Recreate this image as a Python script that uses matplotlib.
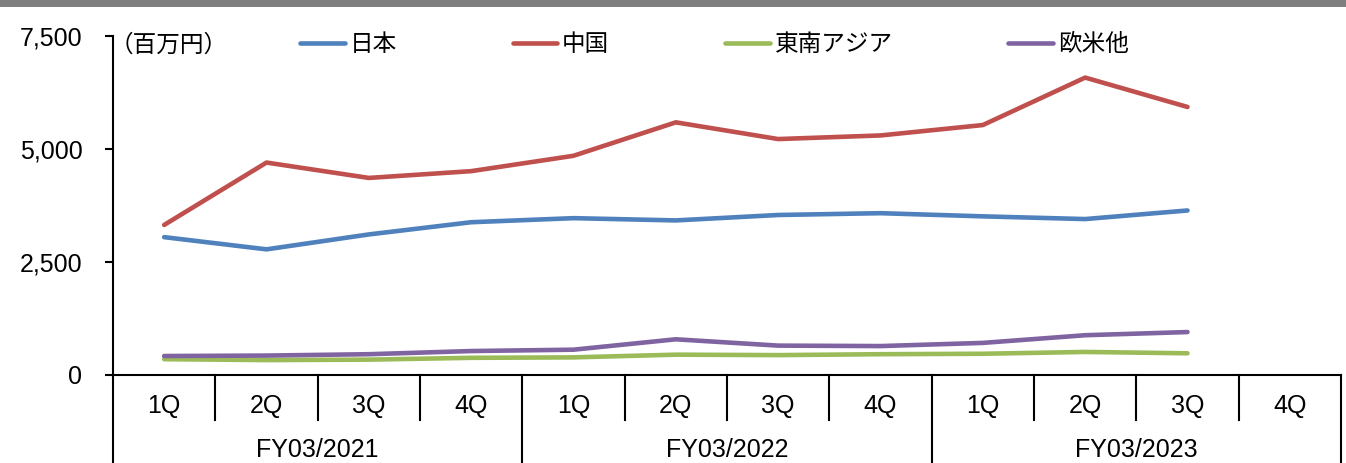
import matplotlib
matplotlib.use('Agg')
import matplotlib.pyplot as plt
from matplotlib.patches import Rectangle
import matplotlib.transforms as mtransforms

plt.rcParams['font.family'] = ['Liberation Sans', 'Noto Sans CJK JP', 'DejaVu Sans']

# ===================== ДАННЫЕ =====================
quarters = ['1Q', '2Q', '3Q', '4Q'] * 3
years = ['FY03/2021', 'FY03/2022', 'FY03/2023']
series_names = ['日本', '中国', '東南アジア', '欧米他']
japan = [3050, 2780, 3110, 3380, 3470, 3420, 3540, 3580, 3510, 3450, 3640]
china = [3320, 4700, 4360, 4510, 4850, 5590, 5220, 5300, 5530, 6580, 5930]
sea = [350, 330, 340, 380, 390, 450, 440, 460, 470, 510, 480]
other = [420, 430, 460, 530, 560, 790, 650, 640, 710, 880, 950]
yticks = [0, 2500, 5000, 7500]
unit_label = '（百万円）'

colors = ['#4F81BD', '#C0504D', '#9BBB59', '#8064A2']

# ===================== ГРАФИК =====================
W, H = 1346, 463
fig = plt.figure(figsize=(W / 100, H / 100), dpi=100)
fig.patches.append(Rectangle((0, 1 - 7 / H), 1, 7 / H, transform=fig.transFigure,
                             facecolor='#7F7F7F', edgecolor='none'))

ax = fig.add_axes([113 / W, 1 - 375 / H, (1341 - 113) / W, (375 - 36) / H])

x = list(range(len(japan)))
for vals, name, c in zip([japan, china, sea, other], series_names, colors):
    ax.plot(x, vals, color=c, lw=3.3, solid_capstyle='round', label=name)

ax.set_xlim(-0.5, len(quarters) - 0.5)
ax.set_ylim(0, 7500)
ax.set_yticks(yticks)
ax.set_yticklabels([f'{v:,}' for v in yticks], fontsize=18)
ax.tick_params(axis='y', direction='out', length=6, width=1.5, pad=16, colors='black')
ax.set_xticks([])

for s in ['top', 'right']:
    ax.spines[s].set_visible(False)
for s in ['left', 'bottom']:
    ax.spines[s].set_linewidth(1.5)
    ax.spines[s].set_color('black')

# двухуровневая подпись оси X
trans = mtransforms.blended_transform_factory(ax.transData, ax.transAxes)
ax_h = 375 - 36
q_bottom = -(420 - 375) / ax_h
y_bottom = -(463 - 375) / ax_h - 0.02
for i in range(len(quarters) + 1):
    xb = i - 0.5
    low = y_bottom if i % 4 == 0 else q_bottom
    ax.plot([xb, xb], [0, low], color='black', lw=1.5, transform=trans, clip_on=False)
for i, q in enumerate(quarters):
    ax.text(i, -(406 - 375) / ax_h, q, transform=trans, ha='center', va='center', fontsize=18)
for j, yname in enumerate(years):
    ax.text(j * 4 + 1.5, -(450 - 375) / ax_h, yname, transform=trans, ha='center', va='center',
            fontsize=18)

fig.text(110 / W, 1 - 46 / H, unit_label, ha='left', va='center', fontsize=17)

ax.legend(loc='center left', bbox_to_anchor=(300 / W, 1 - 45 / H), bbox_transform=fig.transFigure,
          ncol=4, frameon=False, fontsize=17, handlelength=1.9, handletextpad=0.2,
          columnspacing=4.9, borderpad=0, borderaxespad=0)

plt.savefig('out.png', dpi=100)
plt.close()
